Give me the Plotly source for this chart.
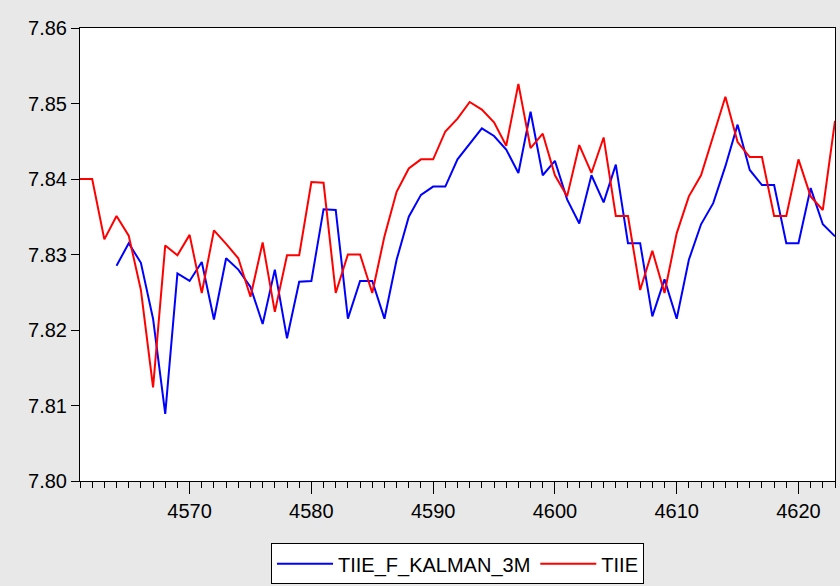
import plotly.graph_objects as go

# Observation index
t_tiie = list(range(4561, 4624))
t_kalman = list(range(4564, 4624))

# TIIE observed rate
tiie = [
    7.8400, 7.8400, 7.8320, 7.8351, 7.8325, 7.8253, 7.8124, 7.8312, 7.8299, 7.8326,
    7.8249, 7.8332, 7.8314, 7.8295, 7.8244, 7.8316, 7.8224, 7.8299, 7.8299, 7.8396,
    7.8395, 7.8249, 7.8300, 7.8300, 7.8249, 7.8324, 7.8383, 7.8414, 7.8426, 7.8426,
    7.8463, 7.8480, 7.8502, 7.8492, 7.8475, 7.8444, 7.8526, 7.8441, 7.8460, 7.8405,
    7.8377, 7.8445, 7.8408, 7.8455, 7.8351, 7.8351, 7.8253, 7.8305, 7.8249, 7.8328,
    7.8377, 7.8405, 7.8457, 7.8509, 7.8449, 7.8429, 7.8429, 7.8351, 7.8351, 7.8426,
    7.8377, 7.8359, 7.8477,
]

# Kalman-filtered 3M forecast
kalman = [
    7.8285, 7.8315, 7.8289, 7.8215, 7.8089, 7.8275, 7.8265, 7.8290, 7.8214, 7.8295,
    7.8280, 7.8257, 7.8208, 7.8280, 7.8189, 7.8264, 7.8265, 7.8360, 7.8359, 7.8215,
    7.8265, 7.8265, 7.8215, 7.8293, 7.8350, 7.8379, 7.8390, 7.8390, 7.8426, 7.8447,
    7.8467, 7.8457, 7.8439, 7.8408, 7.8489, 7.8405, 7.8424, 7.8373, 7.8341, 7.8405,
    7.8369, 7.8419, 7.8315, 7.8315, 7.8218, 7.8267, 7.8215, 7.8293, 7.8340, 7.8368,
    7.8417, 7.8472, 7.8412, 7.8392, 7.8392, 7.8315, 7.8315, 7.8388, 7.8340, 7.8324,
]

fig = go.Figure()
fig.add_trace(go.Scatter(x=t_kalman, y=kalman, mode="lines", name="TIIE_F_KALMAN_3M",
                         line=dict(color="#0000ff", width=2)))
fig.add_trace(go.Scatter(x=t_tiie, y=tiie, mode="lines", name="TIIE",
                         line=dict(color="#ff0000", width=2)))

font_family = "Liberation Sans, Arial, sans-serif"

fig.update_layout(
    width=840, height=586,
    margin=dict(l=80, r=5, t=28, b=105),
    paper_bgcolor="#e8e8e8",
    plot_bgcolor="#ffffff",
    font=dict(family=font_family, size=20, color="#000000"),
    showlegend=True,
    legend=dict(orientation="h", x=0.5, xref="paper", xanchor="center",
                y=0.038, yref="container", yanchor="middle",
                bgcolor="#ffffff", bordercolor="#000000", borderwidth=1,
                font=dict(family=font_family, size=20, color="#000000"),
                itemwidth=56),
    xaxis=dict(range=[4561, 4623], tick0=4570, dtick=10, showgrid=False, zeroline=False,
               automargin=False,
               ticks="outside", ticklen=12, tickcolor="#000000", tickwidth=1,
               showline=True, linecolor="#000000", linewidth=1, mirror=True,
               tickfont=dict(size=20),
               minor=dict(dtick=1, tick0=4561, ticks="outside", ticklen=6,
                          tickcolor="#000000", tickwidth=1, showgrid=False)),
    yaxis=dict(range=[7.80, 7.86], dtick=0.01, tick0=7.80, tickformat=".2f", showgrid=False,
               zeroline=False, automargin=False,
               ticks="outside", ticklen=8, tickcolor="#000000", tickwidth=1,
               showline=True, linecolor="#000000", linewidth=1, mirror=True,
               tickfont=dict(size=20)),
)

fig.write_html("out.html")
